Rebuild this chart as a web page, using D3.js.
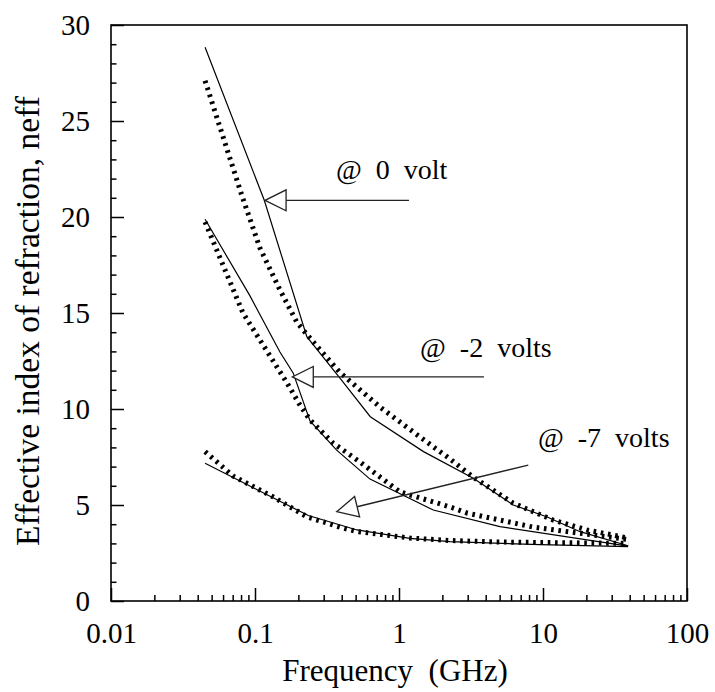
<!DOCTYPE html>
<html>
<head>
<meta charset="utf-8">
<script src="https://cdn.jsdelivr.net/npm/d3@7"></script>
<style>
  html, body { margin: 0; padding: 0; background: #fff; }
  svg { display: block; }
  svg text { font-family: "Liberation Serif", Tinos, "Times New Roman", Times, "Nimbus Roman", "DejaVu Serif", serif; fill: #000; }
</style>
</head>
<body>
<svg id="chart" width="715" height="692"></svg>
<script>
// ---------- data (frequency in GHz, effective index) ----------
const freqSolid0V  = [0.045, 0.116, 0.229, 0.389, 0.632, 1.48, 3.28, 6.22, 10.6, 18.1, 39];
const neffSolid0V  = [28.84, 20.87, 13.77, 11.61, 9.60, 7.78, 6.39, 5.00, 4.39, 3.61, 2.88];
const freqDotted0V = [0.045, 0.0812, 0.108, 0.149, 0.196, 0.253, 0.389, 0.738, 1.40, 2.26, 3.26, 6.19, 11.7, 20.2, 39];
const neffDotted0V = [27.1, 21.1, 18.4, 16.2, 14.5, 13.5, 11.9, 10.1, 8.54, 7.40, 6.46, 5.10, 4.22, 3.70, 3.28];

const freqSolid2V  = [0.045, 0.0923, 0.149, 0.184, 0.241, 0.369, 0.629, 1.73, 5.03, 39];
const neffSolid2V  = [19.88, 15.89, 12.97, 11.88, 9.38, 7.86, 6.35, 4.74, 3.87, 2.86];
const freqDotted2V = [0.045, 0.0825, 0.167, 0.205, 0.241, 0.348, 0.536, 1.016, 2.26, 2.97, 8.52, 39];
const neffDotted2V = [19.74, 15.0, 11.35, 10.21, 9.43, 8.23, 7.24, 5.68, 4.90, 4.58, 3.85, 3.2];

const freqSolid7V  = [0.045, 0.2345, 0.511, 1.19, 2.26, 9.53, 39];
const neffSolid7V  = [7.17, 4.45, 3.70, 3.26, 3.09, 2.94, 2.83];
const freqDotted7V = [0.045, 0.0704, 0.108, 0.133, 0.23, 0.408, 0.511, 1.19, 2.26, 5.03, 39];
const neffDotted7V = [7.78, 6.51, 5.78, 5.43, 4.38, 3.80, 3.62, 3.28, 3.15, 3.07, 3.0];

const xTickValues = [0.01, 0.1, 1, 10, 100];
const xTickLabels = ["0.01", "0.1", "1", "10", "100"];
const yTickValues = [0, 5, 10, 15, 20, 25, 30];
const yTickLabels = ["0", "5", "10", "15", "20", "25", "30"];

const xTitle = "Frequency  (GHz)";
const yTitle = "Effective index of refraction, neff";

// annotation labels with arrow tip / tail and text anchor in data coordinates
const annoLabels = ["@ 0 volt", "@ -2 volts", "@ -7 volts"];
const annoTipF   = [0.1175, 0.1815, 0.3693];
const annoTipV   = [20.87, 11.67, 4.65];
const annoTailF  = [1.173, 3.89, 7.9];
const annoTailV  = [20.87, 11.67, 7.08];
const annoTextF  = [0.365, 1.40, 9.23];
const annoTextV  = [21.98, 12.71, 8.04];

// ---------- layout ----------
const svg = d3.select("#chart");
const L = 111, R = 687, T = 25, B = 601;

const x = d3.scaleLog().domain([0.01, 100]).range([L, R]);
const y = d3.scaleLinear().domain([0, 30]).range([B, T]);

const xMinor = [];
[0.01, 0.1, 1, 10].forEach(d => { for (let k = 2; k <= 9; k++) xMinor.push(d * k); });
const yMinor = d3.range(0, 31).filter(v => v % 5 !== 0);

const xAxisMajor = d3.axisBottom(x).tickValues(xTickValues)
  .tickFormat((d, i) => xTickLabels[i]).tickSizeInner(-13).tickSizeOuter(0).tickPadding(21);
const xAxisMinor = d3.axisBottom(x).tickValues(xMinor).tickFormat("").tickSizeInner(-6).tickSizeOuter(0);
const yAxisMajor = d3.axisLeft(y).tickValues(yTickValues)
  .tickFormat((d, i) => yTickLabels[i]).tickSizeInner(-13).tickSizeOuter(0).tickPadding(21);
const yAxisMinor = d3.axisLeft(y).tickValues(yMinor).tickFormat("").tickSizeInner(-5.5).tickSizeOuter(0);

function styleAxis(g) {
  g.attr("font-family", null).attr("font-size", null);
  g.select(".domain").remove();
  g.selectAll(".tick line").attr("stroke", "#000").attr("stroke-width", 1.5);
  g.selectAll("text").style("font-size", "29px").attr("fill", "#000");
}

svg.append("g").attr("transform", `translate(0,${B})`).call(xAxisMinor).call(styleAxis);
svg.append("g").attr("transform", `translate(0,${B})`).call(xAxisMajor).call(styleAxis);
svg.append("g").attr("transform", `translate(${L},0)`).call(yAxisMinor).call(styleAxis);
svg.append("g").attr("transform", `translate(${L},0)`).call(yAxisMajor).call(styleAxis);

svg.append("rect").attr("x", L).attr("y", T).attr("width", R - L).attr("height", B - T)
  .attr("fill", "none").attr("stroke", "#000").attr("stroke-width", 1.6);

svg.append("text").attr("x", 395).attr("y", 681).attr("text-anchor", "middle")
  .style("font-size", "31px").style("white-space", "pre").text(xTitle);
svg.append("text").attr("transform", "translate(39,546) rotate(-90)").attr("text-anchor", "start")
  .style("font-size", "33.5px").text(yTitle);

const line = d3.line().x(d => x(d[0])).y(d => y(d[1])).curve(d3.curveLinear);
const zip = (f, v) => f.map((d, i) => [d, v[i]]);

const dottedSeries = [zip(freqDotted0V, neffDotted0V), zip(freqDotted2V, neffDotted2V), zip(freqDotted7V, neffDotted7V)];
const solidSeries  = [zip(freqSolid0V, neffSolid0V), zip(freqSolid2V, neffSolid2V), zip(freqSolid7V, neffSolid7V)];

dottedSeries.forEach(s => {
  svg.append("path").attr("d", line(s)).attr("fill", "none").attr("stroke", "#000")
    .attr("stroke-width", 5).attr("stroke-dasharray", "2.6 4.7").attr("stroke-linecap", "butt");
});
solidSeries.forEach(s => {
  svg.append("path").attr("d", line(s)).attr("fill", "none").attr("stroke", "#000")
    .attr("stroke-width", 1.2);
});

annoLabels.forEach((lab, i) => {
  const tx = x(annoTipF[i]), ty = y(annoTipV[i]);
  const ex = x(annoTailF[i]), ey = y(annoTailV[i]);
  const dx = ex - tx, dy = ey - ty, len = Math.hypot(dx, dy);
  const ux = dx / len, uy = dy / len;
  const hl = 21, hw = 10.5;
  const bx = tx + ux * hl, by = ty + uy * hl;
  const px = -uy * hw, py = ux * hw;
  svg.append("line").attr("x1", bx).attr("y1", by).attr("x2", ex).attr("y2", ey)
    .attr("stroke", "#222").attr("stroke-width", 1.3);
  svg.append("path")
    .attr("d", `M${tx},${ty}L${bx + px},${by + py}L${bx - px},${by - py}Z`)
    .attr("fill", "#fff").attr("stroke", "#222").attr("stroke-width", 1.3);
  svg.append("text").attr("x", x(annoTextF[i])).attr("y", y(annoTextV[i]))
    .style("font-size", "28px").style("word-spacing", "7px").text(lab);
});
</script>
</body>
</html>
